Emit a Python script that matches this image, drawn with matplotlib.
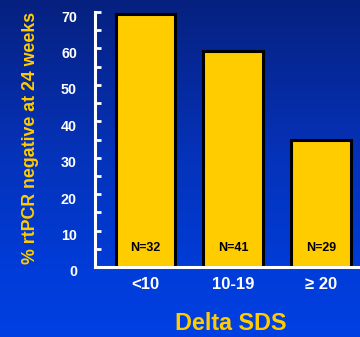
import numpy as np
import matplotlib
matplotlib.use("Agg")
import matplotlib.pyplot as plt
import matplotlib.transforms as mtransforms
from matplotlib.colors import LinearSegmentedColormap

# Response by change in SDS
categories = ["<10", "10-19", "\u2265 20"]
pct_negative = [69.5, 59.2, 35.0]
n_labels = ["N=32", "N=41", "N=29"]
y_ticks = [0, 10, 20, 30, 40, 50, 60, 70]

GOLD = "#FFCC00"
WHITE = "#FFFFFF"
plt.rcParams["font.family"] = ["Liberation Sans", "DejaVu Sans"]

fig = plt.figure(figsize=(3.6, 3.37), dpi=100)

# Blue gradient backdrop, dark at top
bg = fig.add_axes([0, 0, 1, 1], zorder=0)
grad = LinearSegmentedColormap.from_list(
    "bg", [(0.0, "#06207F"), (0.45, "#0532B8"), (0.8, "#003CD8"), (1.0, "#0040E2")]
)
bg.imshow(np.linspace(0, 1, 256).reshape(-1, 1), aspect="auto", cmap=grad,
          extent=[0, 1, 0, 1], origin="upper")
bg.set_axis_off()

ax = fig.add_axes([95 / 360, 1 - 267 / 337, 1 - 95 / 360, 255 / 337], zorder=1)
ax.patch.set_alpha(0)

x = np.arange(len(categories))
ax.bar(x, pct_negative, width=0.68, color=GOLD, edgecolor="black",
       linewidth=2.2, zorder=2)
for xi, lab in zip(x, n_labels):
    ax.text(xi, 5.2, lab, ha="center", va="center", fontsize=9,
            fontweight="bold", color="black", zorder=3)

ax.set_xlim(-0.574, 2.44)
ax.set_ylim(0, 70)
for side in ("top", "right"):
    ax.spines[side].set_visible(False)
for side in ("left", "bottom"):
    ax.spines[side].set_color(WHITE)
    ax.spines[side].set_linewidth(2.2)
    ax.spines[side].set_zorder(4)

ax.set_yticks(y_ticks)
ax.set_yticks(np.arange(5, 70, 5), minor=True)
ax.tick_params(axis="y", which="both", direction="in", length=4, width=2,
               color=WHITE, labelcolor=WHITE, labelsize=10.3, pad=13)
ax.tick_params(axis="x", length=0, labelcolor=WHITE, labelsize=12, pad=7)
ax.set_xticks(x)
ax.set_xticklabels(categories, fontweight="bold")

# y labels sit a little below their ticks
shift = mtransforms.ScaledTranslation(0, -4 / 100, fig.dpi_scale_trans)
for lab in ax.get_yticklabels():
    lab.set_fontweight("bold")
    lab.set_transform(lab.get_transform() + shift)

fig.text(31 / 360, 1 - 138 / 337, "% rtPCR negative at 24 weeks", rotation=90,
         ha="center", va="center", color=GOLD, fontsize=12.8, fontweight="bold")
fig.text(231 / 360, 1 - 323 / 337, "Delta SDS", ha="center", va="center",
         color=GOLD, fontsize=16.8, fontweight="bold")

fig.savefig("out.png", dpi=100)
